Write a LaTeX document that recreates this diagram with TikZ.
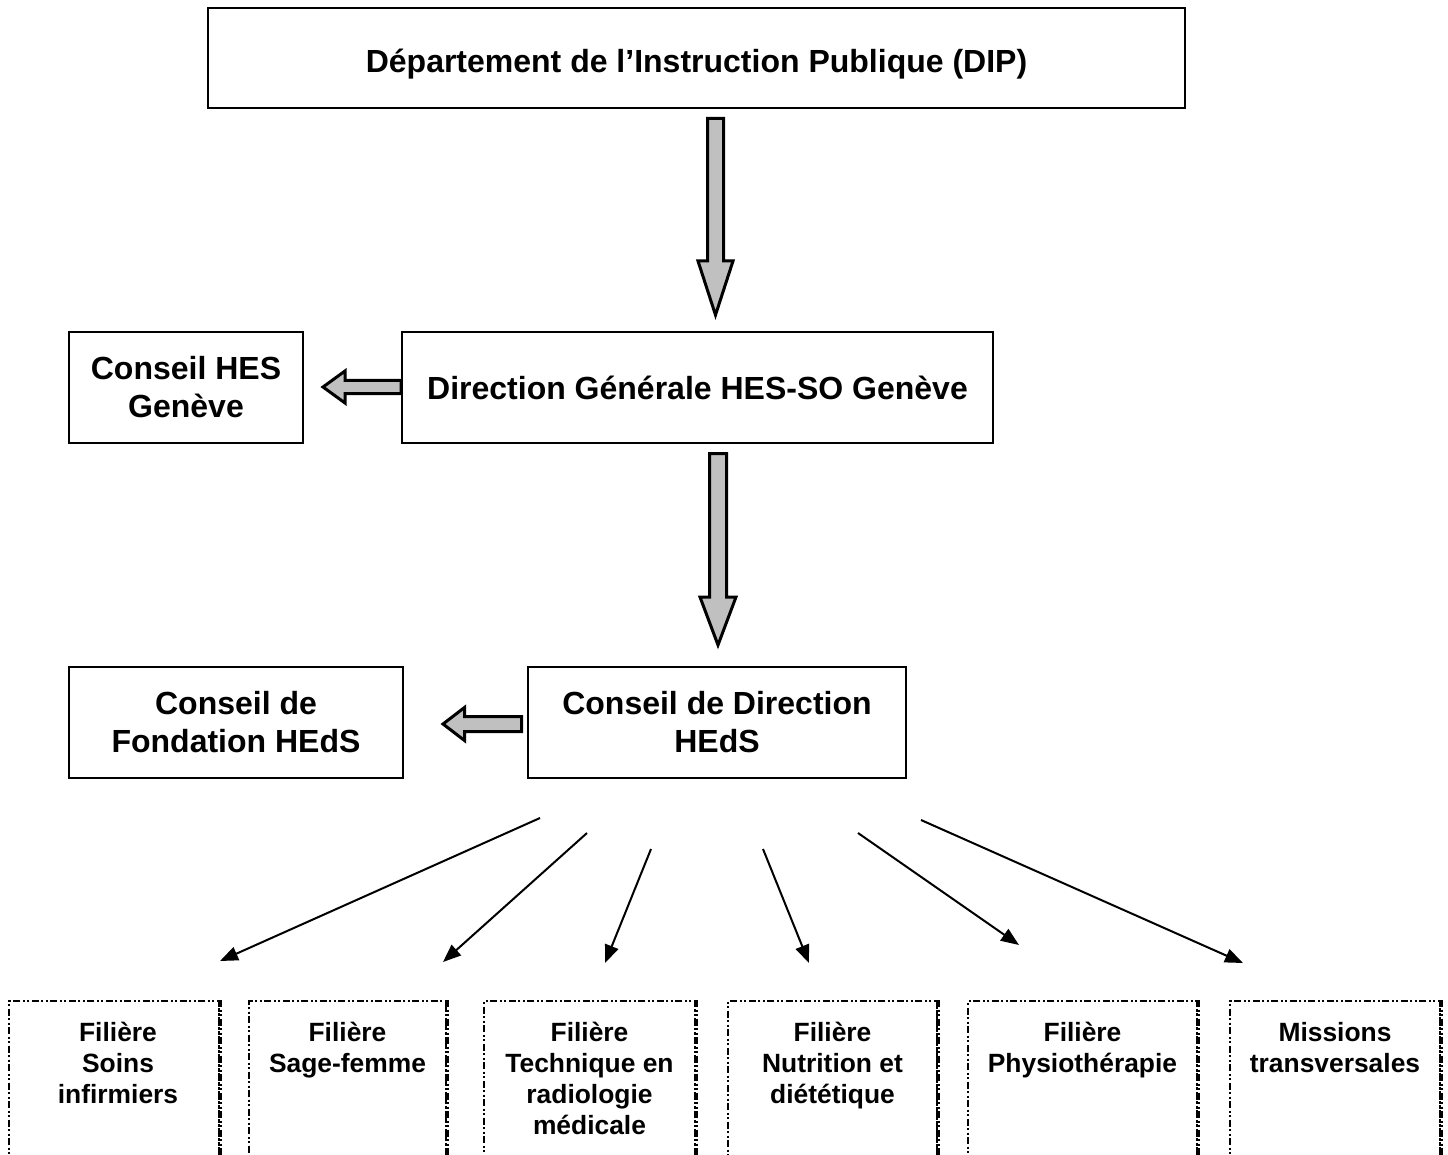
\documentclass[tikz,border=0pt]{standalone}
\usepackage{fontspec}
\setmainfont{Liberation Sans}
\usetikzlibrary{calc,arrows.meta}
\definecolor{fatgray}{RGB}{192,192,192}
\tikzset{
  box/.style={draw, line width=2pt, inner sep=0pt, align=center,
    font=\bfseries\fontsize{32}{38}\selectfont},
  fat/.style={draw, line width=3pt, fill=fatgray, line join=miter},
  thinarrow/.style={line width=2pt, -{Triangle[length=18pt,width=14pt]}},
  ddd/.style={draw, line width=2pt, dash pattern=on 7pt off 2.5pt on 2pt off 2.5pt on 2pt off 2.5pt},
  lbl/.style={font=\bfseries\fontsize{26.4}{31}\selectfont, align=center, inner sep=0pt}
}
% #1 start, #2 end, #3 shaft half width, #4 head half width, #5 head length
\newcommand\fatarrow[5]{%
  \coordinate (fab) at ($(#2)!#5!(#1)$);
  \filldraw[fat] ($(#1)!#3!90:(#2)$) -- ($(fab)!#3!90:(#2)$) -- ($(fab)!#4!90:(#2)$)
    -- (#2) -- ($(fab)!#4!-90:(#2)$) -- ($(fab)!#3!-90:(#2)$) -- ($(#1)!#3!-90:(#2)$) -- cycle;
}
\begin{document}
\begin{tikzpicture}[x=1pt, y=-1pt]
\useasboundingbox (0,0) rectangle (1448,1155);
% main boxes
\node[box, minimum width=977pt, minimum height=100pt, text height=30pt, text depth=0pt] (dip) at (696.5,58) {Département de l’Instruction Publique (DIP)};
\node[box, minimum width=591pt, minimum height=111pt] (dg) at (697.5,387.5) {Direction Générale HES-SO Genève};
\node[box, minimum width=234pt, minimum height=111pt] (ch) at (186,387.5) {Conseil HES\\Genève};
\node[box, minimum width=378pt, minimum height=111pt] (cd) at (717,722.5) {Conseil de Direction\\HEdS};
\node[box, minimum width=334pt, minimum height=111pt] (cf) at (236,722.5) {Conseil de\\Fondation HEdS};
% block arrows
\coordinate (a1s) at (715.5,118.5);
\coordinate (a1e) at (715.5,315);
\fatarrow{a1s}{a1e}{8pt}{17.5pt}{54pt}
\coordinate (a2s) at (718,453.5);
\coordinate (a2e) at (718,645);
\fatarrow{a2s}{a2e}{8.5pt}{18pt}{48pt}
\coordinate (a3s) at (dg.west |- 0,387);
\coordinate (a3e) at (323,387);
\fatarrow{a3s}{a3e}{6.5pt}{16pt}{22pt}
\coordinate (a4s) at (521.5,724);
\coordinate (a4e) at (443,724);
\fatarrow{a4s}{a4e}{7.5pt}{16.5pt}{21.5pt}
% bottom boxes
\foreach \n/\xa/\xb in {f1/8/218, f2/248/445, f3/483/694, f4/727/936, f5/967/1196, f6/1229/1439}{
  \pgfmathsetmacro\ww{\xb-\xa}
  \node[ddd, minimum width=\ww pt, minimum height=220pt, anchor=north west, inner sep=0pt] (\n) at (\xa,1000) {};
  \draw[ddd, line width=4pt] (\n.north east) -- (\n.south east);
}
\node[lbl, anchor=north] (t1) at ($(f1.north)+(4,22)$) {Filière\\Soins\\infirmiers};
\node[lbl, anchor=north] (t2) at ($(f2.north)+(0,22)$) {Filière\\Sage-femme};
\node[lbl, anchor=north] (t3) at ($(f3.north)+(0,22)$) {Filière\\Technique en\\radiologie\\médicale};
\node[lbl, anchor=north] (t4) at ($(f4.north)+(0,22)$) {Filière\\Nutrition et\\diététique};
\node[lbl, anchor=north] (t5) at ($(f5.north)+(0,22)$) {Filière\\Physiothérapie};
\node[lbl, anchor=north] (t6) at ($(f6.north)+(0,22)$) {Missions\\transversales};
% thin arrows
\coordinate (s1) at (540,818);  \coordinate (e1) at (220,961);
\coordinate (s2) at (587,833);  \coordinate (e2) at (443,962);
\coordinate (s3) at (651,849);  \coordinate (e3) at (605,963);
\coordinate (s4) at (763,849);  \coordinate (e4) at (809,963);
\coordinate (s5) at (858,833);  \coordinate (e5) at (1019,945);
\coordinate (s6) at (921,820);  \coordinate (e6) at (1243,963);
\foreach \i in {1,...,6}{ \draw[thinarrow] (s\i) -- (e\i); }
\end{tikzpicture}
\end{document}
